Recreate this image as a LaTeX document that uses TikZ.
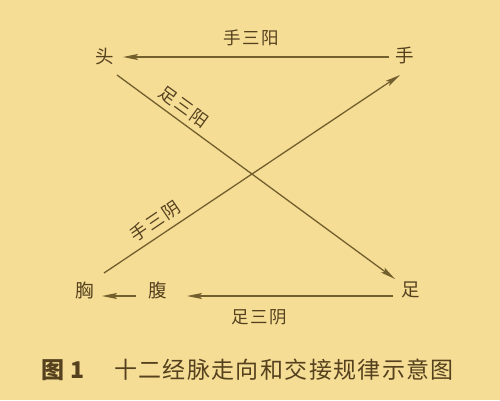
\documentclass[tikz,border=0pt]{standalone}
\usepackage{fontspec}
\newfontfamily\cjk{Noto Sans CJK SC}
\newfontfamily\cjkspaced[LetterSpace=10]{Noto Sans CJK SC}
\newfontfamily\cjkcap[LetterSpace=6]{Noto Sans CJK SC}
\usetikzlibrary{arrows.meta}
\definecolor{bgc}{RGB}{245,221,150}
\definecolor{linec}{RGB}{115,95,45}
\definecolor{textc}{RGB}{85,65,30}
\begin{document}
\begin{tikzpicture}[x=1pt,y=1pt,
  place/.style={inner sep=0pt,text=textc,font=\cjk\fontsize{18.5}{18.5}\selectfont},
  lbl/.style={inner sep=0pt,text=textc,font=\cjkspaced\fontsize{17.5}{17.5}\selectfont},
  link/.style={draw=linec,line width=1.3pt},
  arr/.style={link,-{Stealth[length=15pt,width=6pt,inset=3pt]}}]
\fill[bgc] (0,0) rectangle (500,400);
\useasboundingbox (0,0) rectangle (500,400);
\node[place] (head) at (105,343) {头};
\node[place] (hand) at (405,345) {手};
\node[place] (foot) at (411,110) {足};
\node[place] (chest) at (85,110) {胸};
\node[place] (abdomen) at (158,110) {腹};
\draw[arr] ([shift={(-16,-2)}]hand.center) -- ([shift={(18,0)}]head.center);
\draw[arr] ([shift={(12,-18)}]head.center) -- ([shift={(-16,11)}]foot.center);
\draw[arr] ([shift={(19,17)}]chest.center) -- ([shift={(-5,-20)}]hand.center);
\draw[arr] ([shift={(-18,-6)}]foot.center) -- ([shift={(29,-6)}]abdomen.center);
\draw[arr] ([shift={(-22,-6)}]abdomen.center) -- ([shift={(17,-6)}]chest.center);
\node[lbl] (l1) at (251,362) {手三阳};
\node[lbl,rotate=-36] (l2) at (184,293) {足三阳};
\node[lbl,rotate=34] (l3) at (155,179) {手三阴};
\node[lbl] (l4) at (259,83) {足三阴};
\node[inner sep=0pt,text=textc,font=\cjk\bfseries\fontsize{23}{23}\selectfont] (fig) at (63,30) {图 1};
\node[inner sep=0pt,text=textc,font=\cjkcap\fontsize{23}{23}\selectfont] (cap) at (284,30) {十二经脉走向和交接规律示意图};
\end{tikzpicture}
\end{document}
